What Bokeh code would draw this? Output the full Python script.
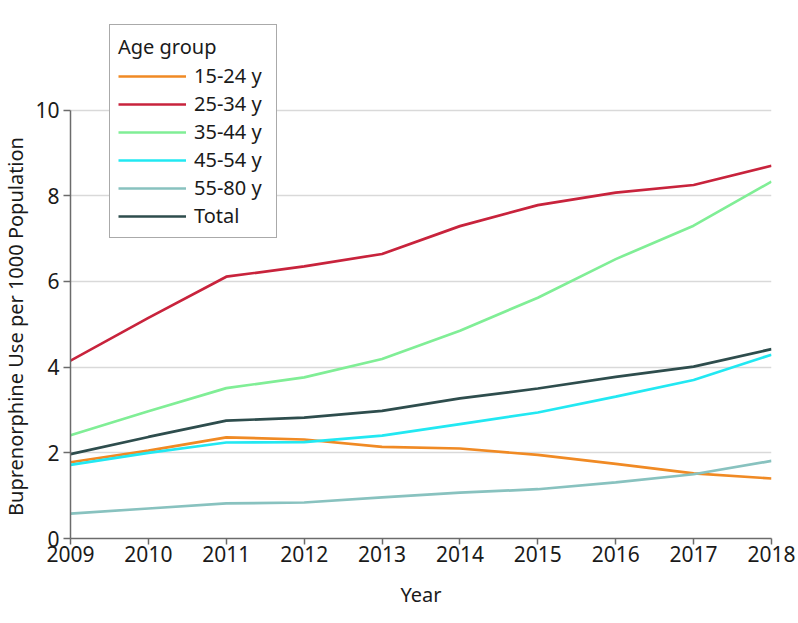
import math
from bokeh.plotting import figure
from bokeh.models import Range1d, FixedTicker, Legend, LegendItem, Label
from bokeh.embed import file_html
from bokeh.resources import INLINE

years = [2009, 2010, 2011, 2012, 2013, 2014, 2015, 2016, 2017, 2018]
age_15_24 = [1.78, 2.05, 2.36, 2.31, 2.14, 2.10, 1.95, 1.74, 1.52, 1.40]
age_25_34 = [4.15, 5.15, 6.11, 6.35, 6.64, 7.29, 7.78, 8.07, 8.25, 8.70]
age_35_44 = [2.41, 2.97, 3.51, 3.76, 4.19, 4.85, 5.62, 6.52, 7.30, 8.33]
age_45_54 = [1.72, 2.00, 2.24, 2.25, 2.40, 2.67, 2.94, 3.31, 3.70, 4.29]
age_55_80 = [0.58, 0.70, 0.82, 0.84, 0.96, 1.07, 1.15, 1.31, 1.50, 1.81]
total = [1.97, 2.37, 2.75, 2.82, 2.98, 3.27, 3.50, 3.77, 4.01, 4.42]

series_labels = ["15-24 y", "25-34 y", "35-44 y", "45-54 y", "55-80 y", "Total"]
series_values = [age_15_24, age_25_34, age_35_44, age_45_54, age_55_80, total]
series_colors = ["#F08A24", "#C8233C", "#80EE96", "#22E8F2", "#88C2BF", "#2E4D4D"]
y_ticks = [0, 2, 4, 6, 8, 10]
x_ticks = years
y_title = "Buprenorphine Use per 1000 Population"
x_title = "Year"
legend_title = "Age group"

FONT = "Noto Sans"

p = figure(width=798, height=623, output_backend="svg", toolbar_location=None,
           x_range=Range1d(2009, 2018), y_range=Range1d(0, 530 / 42.85),
           min_border_left=70, min_border_right=27, min_border_top=8,
           min_border_bottom=85)
p.outline_line_color = None
p.background_fill_color = "white"
p.border_fill_color = "white"

renderers = []
for lab, vals, col in zip(series_labels, series_values, series_colors):
    r = p.line(years, vals, line_color=col, line_width=2.7)
    renderers.append((lab, r))

# axes
p.xaxis.ticker = FixedTicker(ticks=x_ticks)
p.yaxis.ticker = FixedTicker(ticks=y_ticks)
p.yaxis.bounds = (0, 10)
p.xaxis.axis_label = x_title
for ax in (p.xaxis, p.yaxis):
    ax.axis_line_color = "#6b6b6b"
    ax.axis_line_width = 1.5
    ax.major_tick_line_color = "#6b6b6b"
    ax.major_tick_line_width = 1.5
    ax.major_tick_in = 0
    ax.minor_tick_line_color = None
    ax.major_label_text_font = FONT
    ax.major_label_text_font_size = "21px"
    ax.major_label_text_color = "#1a1a1a"
    ax.axis_label_text_font = FONT
    ax.axis_label_text_font_size = "20px"
    ax.axis_label_text_font_style = "normal"
    ax.axis_label_text_color = "#1a1a1a"
p.xaxis.major_tick_out = 6
p.yaxis.major_tick_out = 7
p.xaxis.major_label_standoff = 1
p.xaxis.axis_label_standoff = 16
p.yaxis.major_label_standoff = 4

# y-axis title placed in the left side panel
ylab = Label(x=10, y=212, x_units="screen", y_units="screen", text=y_title,
             angle=math.pi / 2, text_align="center", text_baseline="alphabetic",
             text_font=FONT, text_font_size="20px", text_color="#1a1a1a")
p.add_layout(ylab, "left")

p.xgrid.grid_line_color = None
p.ygrid.ticker = FixedTicker(ticks=[2, 4, 6, 8, 10])
p.ygrid.grid_line_color = "#d9d9d9"
p.ygrid.grid_line_width = 1.5

legend = Legend(items=[LegendItem(label=lab, renderers=[r]) for lab, r in renderers],
                location=(39, 300), title=legend_title)
legend.title_text_font = FONT
legend.title_text_font_size = "20px"
legend.title_text_font_style = "normal"
legend.title_text_color = "#1a1a1a"
legend.title_standoff = 2
legend.label_text_font = FONT
legend.label_text_font_size = "20px"
legend.label_text_color = "#1a1a1a"
legend.glyph_width = 68
legend.glyph_height = 20
legend.label_height = 20
legend.label_width = 74
legend.label_standoff = 8
legend.spacing = 1
legend.padding = 8
legend.margin = 0
legend.border_line_color = "#555555"
legend.border_line_width = 1
legend.background_fill_alpha = 1
p.add_layout(legend, "center")

open("out.html", "w").write(file_html(p, INLINE))
